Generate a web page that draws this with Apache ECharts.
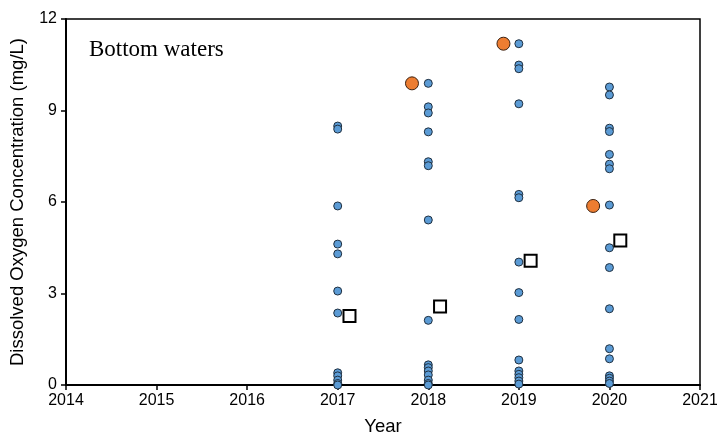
<!DOCTYPE html>
<html><head><meta charset="utf-8">
<script src="https://cdn.jsdelivr.net/npm/echarts@6/dist/echarts.min.js"></script>
<style>html,body{margin:0;padding:0;background:#fff}#c{width:717px;height:435px}</style>
</head><body><div id="c"></div>
<script>
const xTicks = [2014, 2015, 2016, 2017, 2018, 2019, 2020, 2021];
const yTicks = [0, 3, 6, 9, 12];
const y2017 = [8.49, 8.39, 5.87, 4.62, 4.30, 3.08, 2.36, 0.40, 0.30, 0.16, 0.05, 0.0];
const y2018 = [9.89, 9.12, 8.92, 8.30, 7.32, 7.19, 5.41, 2.12, 0.66, 0.57, 0.46, 0.33, 0.16, 0.05, 0.0];
const y2019 = [11.19, 10.49, 10.37, 9.22, 6.25, 6.14, 4.03, 3.03, 2.15, 0.82, 0.46, 0.35, 0.24, 0.13, 0.03];
const y2020 = [9.77, 9.51, 8.42, 8.31, 7.56, 7.24, 7.09, 5.90, 4.50, 3.85, 2.50, 1.19, 0.86, 0.30, 0.22, 0.13, 0.05];
const maxX = [2017.82, 2018.83, 2019.82];
const maxY = [9.89, 11.19, 5.87];
const meanX = [2017.13, 2018.13, 2019.13, 2020.12];
const meanY = [2.26, 2.57, 4.07, 4.74];

const blue = [];
[[2017, y2017], [2018, y2018], [2019, y2019], [2020, y2020]].forEach(([yr, arr]) => arr.forEach(v => blue.push([yr, v])));
const orange = maxX.map((x, i) => [x, maxY[i]]);
const squares = meanX.map((x, i) => [x, meanY[i]]);

const chart = echarts.init(document.getElementById('c'));
const axisFont = {fontFamily: 'Liberation Sans, Arial, sans-serif', fontSize: 16, color: '#000'};
chart.setOption({
  animation: false,
  title: {text: 'Bottom waters', left: 84, top: 33,
    textStyle: {fontFamily: 'Liberation Serif, Times New Roman, serif', fontSize: 23, fontWeight: 'normal', color: '#000'}},
  grid: {left: 66, right: 17, top: 19, bottom: 50, show: true, borderColor: '#000', borderWidth: 1.5,
    containLabel: false, outerBoundsMode: 'none'},
  xAxis: {type: 'value', min: xTicks[0], max: xTicks[xTicks.length - 1], interval: 1,
    name: 'Year', nameLocation: 'middle', nameGap: 32,
    nameTextStyle: {fontFamily: 'Liberation Sans, Arial, sans-serif', fontSize: 18.5, color: '#000'},
    axisLine: {show: true, lineStyle: {color: '#000', width: 2}},
    axisTick: {show: true, length: 5, lineStyle: {color: '#000', width: 1.5}},
    axisLabel: Object.assign({formatter: v => String(v), margin: 8}, axisFont),
    splitLine: {show: false}},
  yAxis: {type: 'value', min: yTicks[0], max: yTicks[yTicks.length - 1], interval: 3,
    name: 'Dissolved Oxygen Concentration (mg/L)', nameLocation: 'middle', nameGap: 39,
    nameTextStyle: {fontFamily: 'Liberation Sans, Arial, sans-serif', fontSize: 18.5, color: '#000'},
    axisLine: {show: true, lineStyle: {color: '#000', width: 2}},
    axisTick: {show: true, length: 5, lineStyle: {color: '#000', width: 1.5}},
    axisLabel: Object.assign({margin: 9}, axisFont),
    splitLine: {show: false}},
  series: [
    {type: 'scatter', data: blue, symbol: 'circle', symbolSize: 8,
      itemStyle: {color: '#5B9BD5', borderColor: '#1f2f3f', borderWidth: 1, opacity: 1}},
    {type: 'scatter', data: orange, symbol: 'circle', symbolSize: 13,
      itemStyle: {color: '#ED7D31', borderColor: '#3a2010', borderWidth: 1, opacity: 1}},
    {type: 'scatter', data: squares, symbol: 'rect', symbolSize: 12,
      itemStyle: {color: '#fff', borderColor: '#000', borderWidth: 2, opacity: 1}}
  ]
});
</script></body></html>
